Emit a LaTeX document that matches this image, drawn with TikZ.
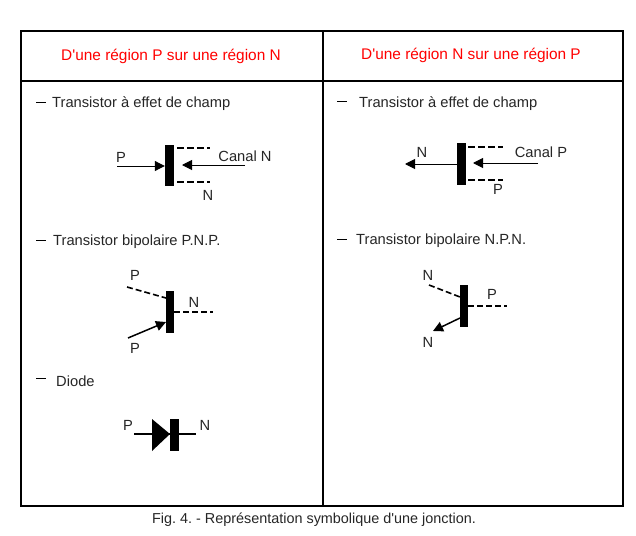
\documentclass[tikz,border=0pt]{standalone}
\usepackage{fontspec}
\setmainfont{Liberation Sans}
\usetikzlibrary{arrows.meta}
\tikzset{
  lbl/.style={inner sep=0pt,font=\fontsize{14.7}{16}\selectfont,text=black!85},
  head/.style={inner sep=0pt,font=\fontsize{15.4}{17}\selectfont,text=red},
  frameline/.style={line width=2pt,draw=black},
  dsh/.style={line width=2pt,dash pattern=on 7pt off 3pt},
  dsho/.style={line width=1.6pt,dash pattern=on 6pt off 3pt},
  thin line/.style={line width=1pt},
  arr/.style={line width=1pt,-{Triangle[length=10pt,width=10pt]}},
  arrb/.style={line width=1.5pt,-{Triangle[length=10pt,width=10pt]}},
  barfill/.style={fill=black,draw=none,inner sep=0pt}
}
\frenchspacing
\begin{document}
\begin{tikzpicture}[x=1pt,y=-1pt]
\useasboundingbox (0,0) rectangle (636,535);
\fill[white] (0,0) rectangle (636,535);
% table
\draw[frameline] (21,31) rectangle (623,506);
\draw[frameline] (21,81) -- (623,81);
\draw[frameline] (323,31) -- (323,506);
\node[head] (h1) at (171,56) {D\textquotesingle une région P sur une région N};
\node[head] (h2) at (471,55) {D\textquotesingle une région N sur une région P};
\node[inner sep=0pt,font=\fontsize{14.4}{16}\selectfont,text=black!85] (cap) at (314,520) {Fig. 4. - Représentation symbolique d\textquotesingle une jonction.};
% item labels
\node[lbl,anchor=west] (t1) at (52,104) {Transistor à effet de champ};
\node[lbl,anchor=west] (t2) at (53,242) {Transistor bipolaire P.N.P.};
\node[lbl,anchor=west] (t3) at (56,381) {Diode};
\node[lbl,anchor=west] (t4) at (359,104) {Transistor à effet de champ};
\node[lbl,anchor=west] (t5) at (356,241) {Transistor bipolaire N.P.N.};
\draw[thin line] (36,102) -- (46,102);
\draw[thin line] (36,240) -- (46,240);
\draw[thin line] (36,378) -- (46,378);
\draw[thin line] (337,101) -- (347,101);
\draw[thin line] (337,239) -- (347,239);
% FET left
\node[barfill,minimum width=9pt,minimum height=41pt] (b1) at (169.5,165.5) {};
\coordinate (b1u) at (177,148); \coordinate (b1ue) at (210,148);
\coordinate (b1l) at (177,182); \coordinate (b1le) at (210,182);
\draw[dsh] (b1u) -- (b1ue);
\draw[dsh] (b1l) -- (b1le);
\coordinate (p1) at (117,166);
\draw[arr] (p1) -- (b1.west |- p1);
\coordinate (c1) at (245,165); \coordinate (c1t) at (182,165);
\draw[arr] (c1) -- (c1t);
\node[lbl] (l1) at (121,157) {P};
\node[lbl] (l2) at (245,156) {Canal N};
\node[lbl] (l3) at (208,195) {N};
% FET right
\node[barfill,minimum width=9pt,minimum height=42pt] (b2) at (461.5,164) {};
\coordinate (b2u) at (468,147); \coordinate (b2ue) at (503,147);
\coordinate (b2l) at (468,180); \coordinate (b2le) at (503,180);
\draw[dsh] (b2u) -- (b2ue);
\draw[dsh] (b2l) -- (b2le);
\coordinate (n2) at (405,164);
\draw[arr] (b2.west |- n2) -- (n2);
\coordinate (c2) at (538,163); \coordinate (c2t) at (473,163);
\draw[arr] (c2) -- (c2t);
\node[lbl] (l4) at (422,152) {N};
\node[lbl] (l5) at (541,152) {Canal P};
\node[lbl] (l6) at (498,189) {P};
% BJT left
\node[barfill,minimum width=8pt,minimum height=42pt] (b3) at (170,312) {};
\coordinate (e3) at (127,287); \coordinate (e3t) at (166,298);
\coordinate (f3) at (128,338); \coordinate (f3t) at (166,322);
\coordinate (g3e) at (213,312);
\draw[dsho] (e3) -- (e3t);
\draw[arrb] (f3) -- (f3t);
\draw[dsh,dash pattern=on 6pt off 3pt] (b3.east) -- (g3e);
\node[lbl] (l7) at (135,275) {P};
\node[lbl] (l8) at (194,302) {N};
\node[lbl] (l9) at (135,348) {P};
% BJT right
\node[barfill,minimum width=8pt,minimum height=42pt] (b4) at (464,306) {};
\coordinate (e4) at (429,285); \coordinate (e4t) at (460,297);
\coordinate (f4) at (460,318); \coordinate (f4t) at (433,331);
\coordinate (g4e) at (507,306);
\draw[dsho] (e4) -- (e4t);
\draw[arrb] (f4) -- (f4t);
\draw[dsh,dash pattern=on 6pt off 3pt] (b4.east) -- (g4e);
\node[lbl] (l10) at (428,275) {N};
\node[lbl] (l11) at (492,294) {P};
\node[lbl] (l12) at (428,342) {N};
% Diode
\coordinate (d1) at (134,434); \coordinate (d2) at (196,434);
\draw[line width=1.5pt] (d1) -- (d2);
\fill[black] (152,419) -- (170,434) -- (152,451) -- cycle;
\node[barfill,minimum width=9pt,minimum height=32pt] (b5) at (174.5,435) {};
\node[lbl] (l13) at (128,425) {P};
\node[lbl] (l14) at (205,425) {N};
\end{tikzpicture}
\end{document}
